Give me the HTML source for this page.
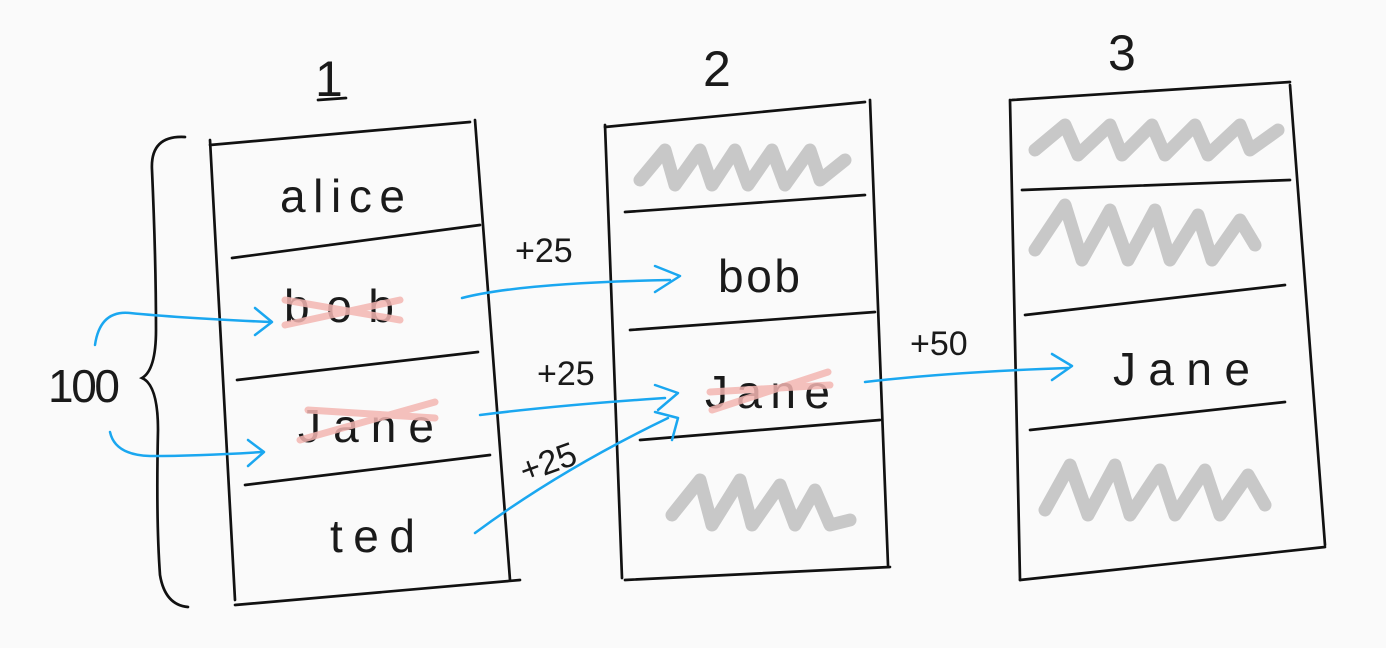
<!DOCTYPE html>
<html><head><meta charset="utf-8"><style>
html,body{margin:0;padding:0;background:#fafafa;}
svg{display:block}
text{font-family:"Liberation Sans",sans-serif;fill:#1a1a1a;}
</style></head><body>
<svg width="1386" height="648" viewBox="0 0 1386 648" xmlns="http://www.w3.org/2000/svg">
<g fill="none" stroke="#111" stroke-width="2.7" stroke-linecap="round">
<path d="M210 140 Q222 370 235 600"/>
<path d="M475 120 Q492 350 510 580"/>
<path d="M210 145 L470 122"/>
<path d="M232 258 L480 225"/>
<path d="M237 380 L478 352"/>
<path d="M245 485 L490 455"/>
<path d="M235 605 L520 580"/>
<path d="M605 125 Q613 350 622 578"/>
<path d="M870 100 Q879 330 888 565"/>
<path d="M605 127 L865 102"/>
<path d="M625 212 L865 195"/>
<path d="M630 330 L875 312"/>
<path d="M640 440 L880 420"/>
<path d="M625 580 L890 567"/>
<path d="M1010 100 Q1015 340 1020 580"/>
<path d="M1290 85 Q1307 315 1325 545"/>
<path d="M1012 100 L1290 82"/>
<path d="M1022 190 L1290 180"/>
<path d="M1025 315 L1285 285"/>
<path d="M1030 430 L1285 402"/>
<path d="M1020 580 L1325 547"/>
<path d="M318 100 L346 98"/>
<path d="M185 137 Q150 135 152 170 Q156 260 156 330 Q156 370 142 378 Q158 385 158 430 Q156 520 160 575 Q165 605 188 607"/>
</g>
<text x="315" y="96" font-size="50">1</text>
<text x="703" y="86" font-size="50">2</text>
<text x="1108" y="70" font-size="50">3</text>
<g fill="none" stroke="#c8c8c8" stroke-width="13" stroke-linecap="round" stroke-linejoin="round">
<path d="M640 180 L665 150 L675 185 L700 150 L712 185 L735 150 L748 185 L772 150 L785 185 L810 150 L820 180 L845 160"/>
<path d="M672 515 L700 480 L712 525 L740 480 L752 525 L780 485 L795 525 L815 490 L830 525 L850 520"/>
<path d="M1035 150 L1065 125 L1078 155 L1110 125 L1122 155 L1152 125 L1165 155 L1195 125 L1208 155 L1240 125 L1250 150 L1278 130"/>
<path d="M1035 250 L1065 205 L1082 260 L1110 210 L1128 260 L1155 210 L1170 260 L1198 215 L1212 260 L1240 220 L1255 245"/>
<path d="M1045 510 L1070 465 L1088 515 L1115 465 L1130 515 L1160 470 L1175 515 L1205 470 L1220 515 L1248 475 L1265 505"/>
</g>
<text x="280" y="212" font-size="46" textLength="125" lengthAdjust="spacing">alice</text>
<text x="284" y="322" font-size="46" textLength="110" lengthAdjust="spacing">bob</text>
<text x="298" y="442" font-size="46" textLength="136" lengthAdjust="spacing">Jane</text>
<text x="330" y="552" font-size="46" textLength="85" lengthAdjust="spacing">ted</text>
<text x="718" y="292" font-size="46" textLength="82" lengthAdjust="spacing">bob</text>
<text x="705" y="408" font-size="46" textLength="125" lengthAdjust="spacing">Jane</text>
<text x="1113" y="385" font-size="46" textLength="137" lengthAdjust="spacing">Jane</text>
<text x="48" y="402" font-size="46" textLength="72" lengthAdjust="spacing">100</text>
<g stroke="#f4b6b2" stroke-width="7" fill="none" stroke-linecap="round" opacity="0.85">
<path d="M285 300 L400 320"/><path d="M285 325 L400 300"/>
<path d="M308 410 L435 418"/><path d="M300 440 L435 402"/>
<path d="M710 392 L830 385"/><path d="M712 410 L828 372"/>
</g>
<text x="515" y="262" font-size="34">+25</text>
<text x="537" y="385" font-size="34">+25</text>
<text x="520" y="475" font-size="34" transform="rotate(-20 545 465)">+25</text>
<text x="910" y="355" font-size="34">+50</text>
<g fill="none" stroke="#1aa7f0" stroke-width="2.5" stroke-linecap="round" stroke-linejoin="round">
<path d="M95 345 Q100 310 130 313 Q180 318 270 322"/><path d="M255 308 L272 322 L255 335"/>
<path d="M110 432 Q115 455 150 456 Q200 456 262 452"/><path d="M248 440 L264 452 L248 466"/>
<path d="M462 298 Q520 283 670 280"/><path d="M655 266 L680 276 L655 292"/>
<path d="M480 415 Q560 405 665 398"/><path d="M655 385 L678 393 L658 410"/>
<path d="M475 533 Q560 470 668 418"/><path d="M655 412 L678 418 L672 440"/>
<path d="M865 382 Q950 372 1068 368"/><path d="M1052 354 L1072 366 L1052 380"/>
</g>
</svg>
</body></html>
